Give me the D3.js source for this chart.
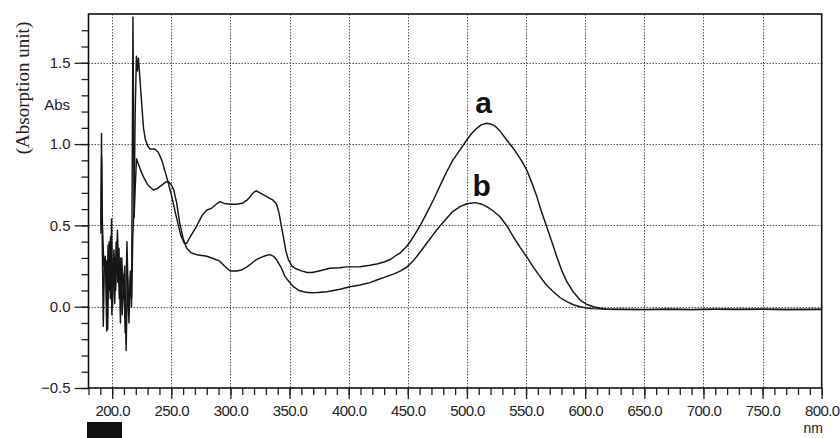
<!DOCTYPE html>
<html lang="en">
<head>
  <meta charset="UTF-8">
  <title>Absorption spectra a / b</title>
  <script src="https://d3js.org/d3.v7.min.js"></script>
  <style>
    body {
      margin: 0;
      background: #fff;
    }
    svg {
      display: block;
    }
    .tick-label {
      font-family: "Liberation Sans", Arial, sans-serif;
      font-size: 15px;
      fill: #222;
    }
  </style>
</head>
<body>
<svg width="840" height="438"></svg>

<script>
  // curve a: wavelength (nm) and absorbance
  const waveA = [190.5, 191.0, 191.5, 192.5, 193.5, 195.0, 196.2, 197.5, 198.5, 199.5, 200.3, 201.5,
    203.0, 204.5, 206.0, 207.0, 208.5, 210.0, 211.0, 212.5, 214.0, 215.5, 216.5, 217.5, 218.5, 219.5,
    220.5, 221.3, 222.2, 223.5, 225, 226.5, 228, 230, 232, 236, 239, 242, 246, 250, 254, 258, 261, 263,
    266, 271, 276, 280, 284, 288, 291, 295, 300, 305, 310, 314, 317, 320, 322, 325, 330, 336, 339, 341,
    343, 345, 347, 349, 352, 355, 360, 365, 369, 375, 384, 392.7, 398, 409.6, 418, 423.8, 430, 435, 440,
    443.5, 449, 453, 457.6, 462, 466, 471.6, 477, 482.9, 488, 494.2, 499.9, 504, 508.3, 512, 516.8, 520,
    523.8, 528, 533.7, 538, 542.2, 546, 550.6, 555, 559.1, 563, 567.5, 572, 576, 580, 584.5, 590, 595.7,
    601, 607, 612, 618.3, 630, 650, 670, 690, 710, 730, 750, 770, 800];
  const absA = [0.50, 1.066, 0.50, -0.12, 0.30, 0.28, -0.14, 0.40, 0.05, 0.54, 0.0, 0.35,
    0.10, 0.47, 0.05, 0.30, -0.05, 0.20, -0.16, 0.40, -0.05, 0.20, 0.05, 0.45, 0.60, 1.2,
    1.54, 1.45, 1.53, 1.40, 1.25, 1.10, 1.03, 0.99, 0.97, 0.97, 0.95, 0.90, 0.80, 0.69, 0.56, 0.44, 0.39, 0.39,
    0.43, 0.49, 0.56, 0.595, 0.605, 0.63, 0.646, 0.635, 0.63, 0.63, 0.636, 0.655, 0.68, 0.705, 0.713, 0.70, 0.68, 0.656, 0.63, 0.58,
    0.50, 0.42, 0.34, 0.29, 0.25, 0.235, 0.22, 0.21, 0.21, 0.22, 0.236, 0.24, 0.245, 0.246, 0.255, 0.263, 0.275, 0.29, 0.315,
    0.33, 0.37, 0.41, 0.465, 0.52, 0.575, 0.656, 0.74, 0.83, 0.90, 0.964, 1.025, 1.065, 1.097, 1.118, 1.128, 1.124,
    1.111, 1.08, 1.025, 0.985, 0.943, 0.90, 0.84, 0.76, 0.677, 0.585, 0.492, 0.395, 0.307, 0.225, 0.154, 0.09, 0.041,
    0.015, 0.0, -0.008, -0.016, -0.017, -0.018, -0.016, -0.018, -0.016, -0.017, -0.016, -0.017, -0.017];

  // curve b
  const waveB = [190.5, 191.1, 191.8, 193.0, 194.2, 195.4, 196.5, 197.6, 198.6, 199.8, 201.0, 202.2,
    203.4, 204.6, 205.8, 207.0, 208.2, 209.4, 210.6, 211.8, 213.0, 214.2, 215.4, 216.4, 217.6, 218.6,
    219.6, 220.6, 222, 224, 226.4, 230, 234.8, 238, 241.9, 245, 247.5, 250, 252, 254.5, 257, 260, 263,
    267, 271.5, 276, 280, 286, 291, 295, 299.7, 305, 309.6, 314, 318, 322, 325, 330, 333.5, 336.5, 339.2,
    343, 346.2, 350, 353.2, 358, 363, 367.3, 374, 381.5, 392.7, 401, 409.6, 418, 423.8, 430, 437.8, 444,
    449.1, 455, 460.4, 466, 471.6, 477, 482.9, 488, 494.2, 500, 506.9, 512, 516.8, 522, 528, 534, 539.3,
    545, 550.6, 556, 561.9, 567, 573.1, 579, 584.5, 590, 595.7, 601, 607, 615, 630, 650, 670, 690, 710,
    730, 750, 770, 800];
  const absB = [0.45, 0.92, 0.50, 0.25, 0.31, -0.15, 0.38, 0.10, 0.43, -0.05, 0.30, 0.02,
    0.40, 0.15, 0.36, -0.10, 0.30, 0.05, 0.25, -0.27, 0.18, -0.10, 0.22, 0.0, 1.78, 0.55,
    0.75, 0.91, 0.88, 0.84, 0.80, 0.75, 0.718, 0.725, 0.748, 0.765, 0.77, 0.75, 0.72, 0.64, 0.52, 0.42, 0.36,
    0.33, 0.32, 0.315, 0.31, 0.295, 0.28, 0.25, 0.22, 0.22, 0.226, 0.245, 0.267, 0.29, 0.30, 0.315, 0.32, 0.31, 0.287,
    0.24, 0.185, 0.15, 0.123, 0.10, 0.09, 0.086, 0.087, 0.092, 0.107, 0.123, 0.133, 0.148, 0.164, 0.18, 0.20, 0.22,
    0.243, 0.285, 0.335, 0.39, 0.445, 0.495, 0.544, 0.585, 0.615, 0.633, 0.64, 0.632, 0.615, 0.59, 0.553, 0.495, 0.43,
    0.365, 0.307, 0.245, 0.185, 0.135, 0.092, 0.055, 0.031, 0.012, 0.0, -0.008, -0.012, -0.015, -0.016, -0.017, -0.015, -0.017, -0.016,
    -0.015, -0.016, -0.017, -0.016];

  const xTicks = [200, 250, 300, 350, 400, 450, 500, 550, 600, 650, 700, 750, 800];
  const yTicks = [-0.5, 0.0, 0.5, 1.0, 1.5];
  const gridY = [0.0, 0.5, 1.0, 1.5];

  const svg = d3.select("svg");
  const plotLeft = 88.5, plotRight = 821.7, plotTop = 14, plotBottom = 388;

  const x = d3.scaleLinear().domain([180, 800]).range([plotLeft, plotRight]);
  const y = d3.scaleLinear().domain([-0.5, 1.8]).range([plotBottom, plotTop]);

  // dotted grid
  const grid = svg.append("g")
    .attr("stroke", "#555")
    .attr("stroke-width", 1)
    .attr("stroke-dasharray", "1.5,1.5");
  grid.selectAll(".gx")
    .data(xTicks.filter(d => d < 800))
    .join("line")
    .attr("class", "gx")
    .attr("x1", d => Math.round(x(d)) + 0.5)
    .attr("x2", d => Math.round(x(d)) + 0.5)
    .attr("y1", plotTop)
    .attr("y2", plotBottom);
  grid.selectAll(".gy")
    .data(gridY)
    .join("line")
    .attr("class", "gy")
    .attr("x1", plotLeft)
    .attr("x2", plotRight)
    .attr("y1", d => Math.round(y(d)) + 0.5)
    .attr("y2", d => Math.round(y(d)) + 0.5);

  // bottom axis: majors every 50, minors every 10
  const xAxisMinor = d3.axisBottom(x)
    .tickValues(d3.range(180, 801, 10))
    .tickSize(7)
    .tickFormat("");
  const xAxisMajor = d3.axisBottom(x)
    .tickValues(xTicks)
    .tickSize(11)
    .tickPadding(6)
    .tickFormat(d3.format(".1f"));

  const gxMinor = svg.append("g").attr("transform", `translate(0,${plotBottom})`).call(xAxisMinor);
  const gxMajor = svg.append("g").attr("transform", `translate(0,${plotBottom})`).call(xAxisMajor);
  [gxMinor, gxMajor].forEach(g => {
    g.select(".domain").remove();
    g.selectAll(".tick line").attr("stroke", "#222").attr("stroke-width", 1.3);
  });
  gxMajor.selectAll(".tick text")
    .attr("class", "tick-label")
    .attr("letter-spacing", "-0.6px")
    .attr("fill", "#222");

  // left axis: majors every 0.5, minors every 0.1
  const yAxisMinor = d3.axisLeft(y)
    .tickValues(d3.range(-5, 18).map(d => d / 10))
    .tickSize(7)
    .tickFormat("");
  const yAxisMajor = d3.axisLeft(y)
    .tickValues(yTicks)
    .tickSize(14)
    .tickPadding(4)
    .tickFormat(d3.format(".1f"));

  const gyMinor = svg.append("g").attr("transform", `translate(${plotLeft},0)`).call(yAxisMinor);
  const gyMajor = svg.append("g").attr("transform", `translate(${plotLeft},0)`).call(yAxisMajor);
  [gyMinor, gyMajor].forEach(g => {
    g.select(".domain").remove();
    g.selectAll(".tick line").attr("stroke", "#222").attr("stroke-width", 1.3);
  });
  gyMajor.selectAll(".tick text")
    .attr("class", "tick-label")
    .attr("fill", "#222");

  // frame
  svg.append("rect")
    .attr("x", plotLeft)
    .attr("y", plotTop)
    .attr("width", plotRight - plotLeft)
    .attr("height", plotBottom - plotTop)
    .attr("fill", "none")
    .attr("stroke", "#111")
    .attr("stroke-width", 1.6);

  // spectra
  const line = d3.line()
    .x(d => x(d[0]))
    .y(d => y(d[1]));

  const series = [
    d3.zip(waveA, absA),
    d3.zip(waveB, absB)
  ];

  svg.append("g")
    .selectAll("path")
    .data(series)
    .join("path")
    .attr("d", line)
    .attr("fill", "none")
    .attr("stroke", "#161616")
    .attr("stroke-width", 1.45)
    .attr("stroke-linejoin", "round");

  // curve labels
  svg.append("text")
    .attr("x", x(514))
    .attr("y", 113)
    .attr("text-anchor", "middle")
    .style("font", "bold 30px 'Liberation Sans', Arial, sans-serif")
    .attr("fill", "#111")
    .text("a");
  svg.append("text")
    .attr("x", x(512.5))
    .attr("y", 196)
    .attr("text-anchor", "middle")
    .style("font", "bold 30px 'Liberation Sans', Arial, sans-serif")
    .attr("fill", "#111")
    .text("b");

  // axis titles
  svg.append("text")
    .attr("x", 70)
    .attr("y", 110)
    .attr("text-anchor", "end")
    .attr("class", "tick-label")
    .text("Abs");

  svg.append("text")
    .attr("transform", "translate(29,88) rotate(-90)")
    .attr("text-anchor", "middle")
    .style("font", "19px 'Liberation Serif', 'Times New Roman', serif")
    .attr("fill", "#222")
    .text("(Absorption unit)");

  svg.append("text")
    .attr("x", 823)
    .attr("y", 432.5)
    .attr("text-anchor", "end")
    .attr("class", "tick-label")
    .style("font-size", "14px")
    .text("nm");

  // black block under the first label
  svg.append("rect")
    .attr("x", 87)
    .attr("y", 422)
    .attr("width", 35)
    .attr("height", 16)
    .attr("fill", "#111");
</script>

</body>
</html>
